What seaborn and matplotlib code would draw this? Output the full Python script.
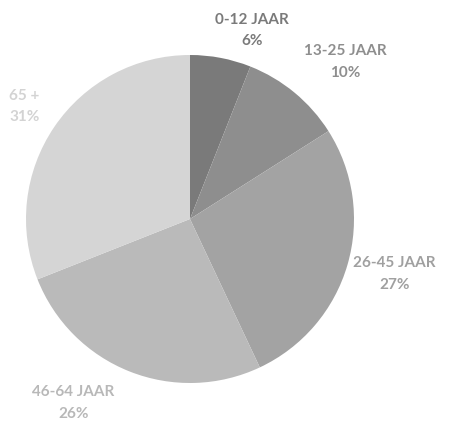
import numpy as np
import matplotlib
matplotlib.use("Agg")
import matplotlib.pyplot as plt
import seaborn as sns

# data
categories = ["0-12 JAAR", "13-25 JAAR", "26-45 JAAR", "46-64 JAAR", "65 +"]
shares = [6, 10, 27, 26, 31]

# styling
slice_colors = ["#7a7a7a", "#8e8e8e", "#a3a3a3", "#bababa", "#d5d5d5"]
label_colors = ["#7a7a7a", "#8e8e8e", "#a0a0a0", "#b8b8b8", "#d3d3d3"]
label_dist = [1.21, 1.345, 1.29, 1.33, 1.22]
label_shift = [-7.5, -5.0, 1.2, -10.8, 0.0]  # degrees off the wedge middle

sns.set_theme(style="white")
plt.rcParams["font.family"] = ["Lato", "DejaVu Sans"]

fig = plt.figure(figsize=(4.56, 4.24), dpi=100)
ax = fig.add_axes([26 / 456, 41 / 424, 328 / 456, 328 / 424])

wedges, _ = ax.pie(shares, colors=slice_colors, startangle=90, counterclock=False,
                   wedgeprops=dict(linewidth=0))

for w, cat, val, col, d, s in zip(wedges, categories, shares, label_colors, label_dist, label_shift):
    ang = np.deg2rad((w.theta1 + w.theta2) / 2 + s)
    ax.text(d * np.cos(ang), d * np.sin(ang), f"{cat}\n{val}%", ha="center", va="center",
            color=col, fontsize=11, fontweight="bold", linespacing=1.7)

ax.set_xlim(-1, 1)
ax.set_ylim(-1, 1)
ax.set_aspect("equal")
ax.axis("off")

fig.savefig("out.png", dpi=100, facecolor="white")
